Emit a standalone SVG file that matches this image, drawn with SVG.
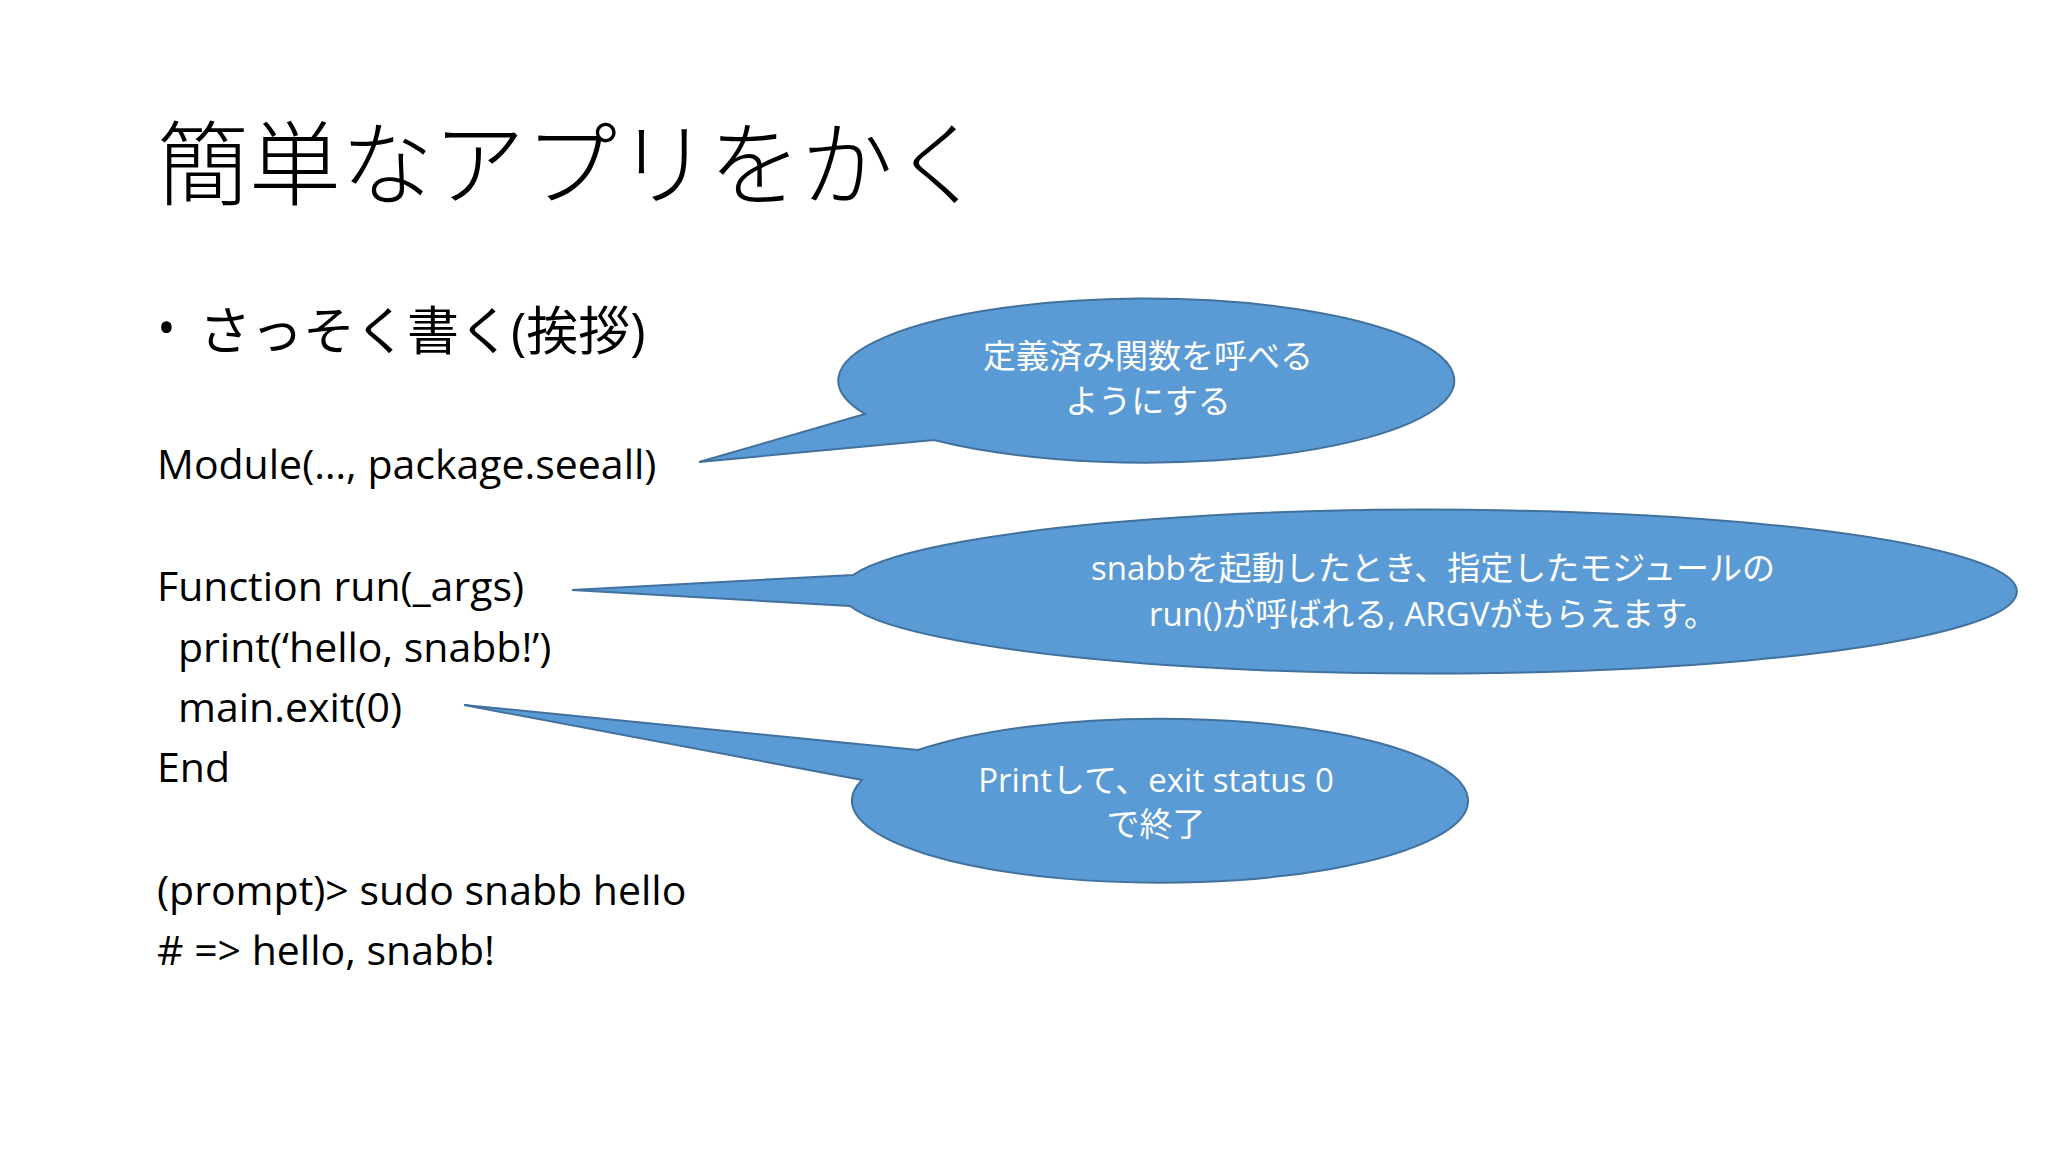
<svg xmlns="http://www.w3.org/2000/svg" width="2048" height="1152" viewBox="0 0 2048 1152">
<style>
.t{font-family:"Open Sans","Noto Sans CJK JP",sans-serif;fill:#000}
.b{fill:#5b9bd5;stroke:#41719c;stroke-width:2}
.w{font-family:"Open Sans","Noto Sans CJK JP",sans-serif;fill:#fff;font-size:33px;text-anchor:middle}
</style>
<rect width="2048" height="1152" fill="#fff"/>
<text class="t" x="157" y="198" font-size="92" font-family="Noto Sans CJK JP" style="font-weight:300">簡単なアプリをかく</text>
<text class="t" x="157" y="345" font-size="50">•</text>
<text class="t" x="199" y="350" font-size="52">さっそく書く(挨拶)</text>
<g class="t" font-size="41">
<text x="157" y="479">Module(…, package.seeall)</text>
<text x="157" y="601">Function run(_args)</text>
<text x="178" y="662">print(‘hello, snabb!’)</text>
<text x="178" y="722">main.exit(0)</text>
<text x="157" y="782">End</text>
<text x="157" y="905">(prompt)&gt; sudo snabb hello</text>
<text x="157" y="965"># =&gt; hello, snabb!</text>
</g>
<g id="connectors"></g>
<g id="bubble1">
<path class="b" d="M865 414 L699 462 L934 440 A308 82 0 1 0 865 414 Z"/>
<text class="w" x="1148" y="368">定義済み関数を呼べる</text>
<text class="w" x="1148" y="413">ようにする</text>
</g>
<g id="bubble2">
<path class="b" d="M853 575 L572 590 L850 606 A588 82 0 1 0 853 575 Z"/>
<text class="w" x="1433" y="580">snabbを起動したとき、指定したモジュールの</text>
<text class="w" x="1433" y="626">run()が呼ばれる, ARGVがもらえます。</text>
</g>
<g id="bubble3">
<path class="b" d="M918 750 L464 705 L862 780 A308 82 0 1 0 918 750 Z"/>
<text class="w" x="1156" y="792">Printして、exit status 0</text>
<text class="w" x="1156" y="836">で終了</text>
</g>
</svg>
